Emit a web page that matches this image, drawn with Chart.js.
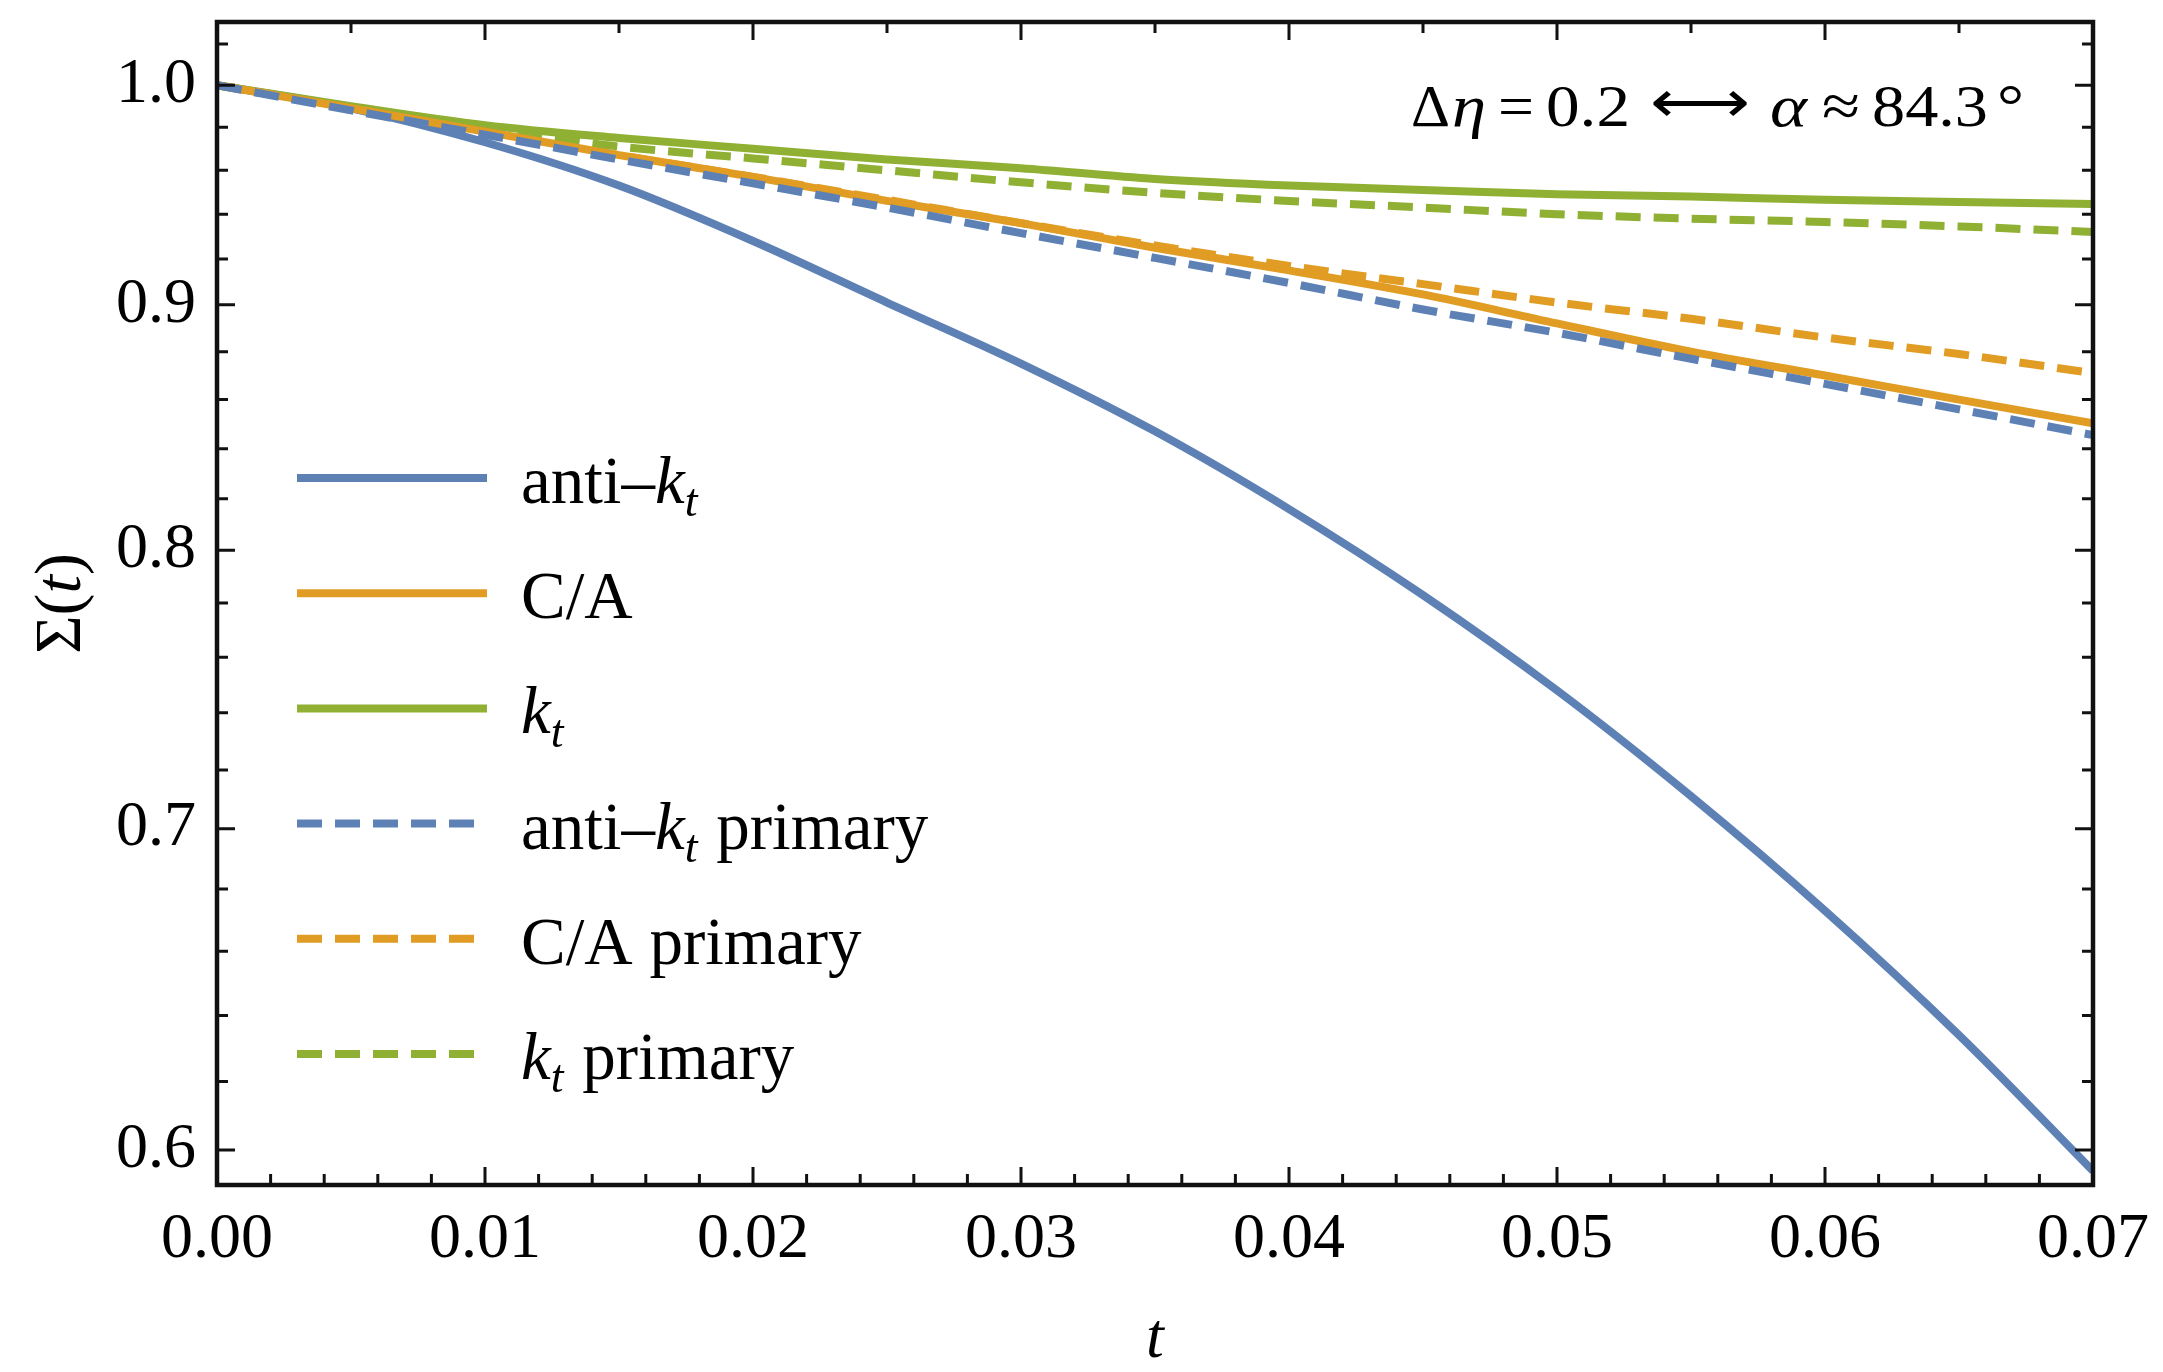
<!DOCTYPE html>
<html>
<head>
<meta charset="utf-8">
<title>Sigma(t)</title>
<script src="https://cdn.jsdelivr.net/npm/chart.js@4.4.1/dist/chart.umd.min.js"></script>
<style>
  html, body { margin: 0; padding: 0; background: #ffffff; }
  #wrap { width: 2163px; height: 1372px; position: relative; }
  canvas { display: block; }
</style>
</head>
<body>
<div id="wrap"><canvas id="c" width="2163" height="1372"></canvas></div>
<script>
// ---------------- data ----------------
const tValues = [0, 0.005, 0.01, 0.015, 0.02, 0.025, 0.03, 0.035, 0.04, 0.045, 0.05, 0.055, 0.06, 0.065, 0.07];
const antiKt        = [1.000, 0.989, 0.973, 0.953, 0.928, 0.901, 0.875, 0.847, 0.816, 0.783, 0.748, 0.711, 0.673, 0.634, 0.594];
const cambridgeAachen = [1.000, 0.989, 0.978, 0.967, 0.957, 0.946, 0.936, 0.925, 0.915, 0.9045, 0.892, 0.880, 0.870, 0.860, 0.8503];
const kt            = [1.000, 0.990, 0.981, 0.975, 0.970, 0.965, 0.961, 0.956, 0.953, 0.951, 0.949, 0.948, 0.9465, 0.9455, 0.9446];
const antiKtPrimary = [1.000, 0.988, 0.9765, 0.965, 0.954, 0.943, 0.9315, 0.9205, 0.9095, 0.898, 0.888, 0.877, 0.8665, 0.856, 0.8455];
const caPrimary     = [1.000, 0.989, 0.978, 0.967, 0.957, 0.9465, 0.936, 0.926, 0.917, 0.909, 0.901, 0.894, 0.886, 0.879, 0.871];
const ktPrimary     = [1.000, 0.989, 0.979, 0.971, 0.9655, 0.960, 0.9545, 0.9497, 0.946, 0.943, 0.940, 0.938, 0.9365, 0.9345, 0.932];

const seriesLabels = ['anti\u2013kt', 'C/A', 'kt', 'anti\u2013kt primary', 'C/A primary', 'kt primary'];
const xTickValues = [0, 0.01, 0.02, 0.03, 0.04, 0.05, 0.06, 0.07];
const yTickValues = [0.6, 0.7, 0.8, 0.9, 1.0];
const xAxisTitle = 't';
const annotationParts = ['\u0394', '\u03B7', '=', '0.2', '\u27F7', '\u03B1', '\u2248', '84.3', '\u00B0'];

// ---------------- styling ----------------
const FONT = '"Liberation Serif", "Times New Roman", Times, serif';
const BLUE = '#5E81B5', ORANGE = '#E19C24', GREEN = '#8FB032';
const LW = 8;
const DASH = [25, 13];

// rich-text segments for legend entries (n = normal, i = italic, s = italic subscript)
const legendRich = [
  [['anti\u2013', 'n'], ['k', 'i'], ['t', 's']],
  [['C/A', 'n']],
  [['k', 'i'], ['t', 's']],
  [['anti\u2013', 'n'], ['k', 'i'], ['t', 's'], [' primary', 'n']],
  [['C/A primary', 'n']],
  [['k', 'i'], ['t', 's'], [' primary', 'n']]
];

function pts(arr) { return tValues.map((t, i) => ({ x: t, y: arr[i] })); }

const seriesData = [antiKt, cambridgeAachen, kt, antiKtPrimary, caPrimary, ktPrimary];
const seriesColors = [BLUE, ORANGE, GREEN, BLUE, ORANGE, GREEN];
const seriesDashed = [false, false, false, true, true, true];

const order = [3, 4, 5, 1, 2, 0];
const datasets = seriesData.map((arr, i) => ({
  label: seriesLabels[i],
  data: pts(arr),
  borderColor: seriesColors[i],
  backgroundColor: seriesColors[i],
  borderWidth: LW,
  borderDash: seriesDashed[i] ? DASH : [],
  borderCapStyle: 'butt',
  pointRadius: 0,
  fill: false,
  cubicInterpolationMode: 'monotone',
  order: order.indexOf(i)
}));

function segFont(st, size) {
  if (st === 'i') return 'italic ' + size + 'px ' + FONT;
  if (st === 's') return 'italic ' + Math.round(size * 0.68) + 'px ' + FONT;
  if (st === 'a') return '200 ' + size + 'px "DejaVu Sans", sans-serif';
  return size + 'px ' + FONT;
}
function drawRich(ctx, segs, x, y, size, align) {
  const widths = segs.map(s => { ctx.font = segFont(s[1], size); return ctx.measureText(s[0]).width; });
  const total = widths.reduce((a, b) => a + b, 0);
  let cx = align === 'right' ? x - total : (align === 'center' ? x - total / 2 : x);
  segs.forEach((s, i) => {
    ctx.font = segFont(s[1], size);
    ctx.fillText(s[0], cx, y + (s[1] === 's' ? size * 0.2 : 0));
    cx += widths[i] + (s[1] === 's' ? 2 : 0);
  });
  return total;
}

const decorPlugin = {
  id: 'decor',
  afterDatasetsDraw(chart) {
    const ctx = chart.ctx;
    const { left, right, top, bottom } = chart.chartArea;
    const xs = chart.scales.x, ys = chart.scales.y;
    ctx.save();
    ctx.strokeStyle = '#111';
    ctx.lineCap = 'butt';
    const MAJ = 18, MIN = 11;
    ctx.lineWidth = 3;
    ctx.beginPath();
    for (let k = 0; k <= 35; k++) {
      const px = xs.getPixelForValue(k * 0.002);
      const len = (k % 5 === 0) ? MAJ : MIN;
      ctx.moveTo(px, bottom); ctx.lineTo(px, bottom - len);
    }
    for (let k = 0; k <= 14; k++) {
      const px = xs.getPixelForValue(k * 0.005);
      const len = (k % 2 === 0) ? MAJ : MIN;
      ctx.moveTo(px, top); ctx.lineTo(px, top + len);
    }
    for (let k = 30; k <= 51; k++) {
      const v = k * 0.02;
      if (v < ys.min || v > ys.max) continue;
      const py = ys.getPixelForValue(v);
      const len = (k % 5 === 0) ? MAJ : MIN;
      ctx.moveTo(left, py); ctx.lineTo(left + len, py);
      ctx.moveTo(right, py); ctx.lineTo(right - len, py);
    }
    ctx.stroke();
    ctx.lineWidth = 4.5;
    ctx.strokeRect(left, top, right - left, bottom - top);

    // legend
    ctx.fillStyle = '#000';
    ctx.textBaseline = 'alphabetic';
    const lx0 = left + 80, lx1 = left + 270, tx = left + 304;
    const row0 = 478, rowStep = 115.2;
    chart.data.datasets.forEach((ds, i) => {
      const yy = row0 + i * rowStep;
      ctx.save();
      ctx.strokeStyle = ds.borderColor;
      ctx.lineWidth = ds.borderWidth;
      ctx.setLineDash(ds.borderDash || []);
      ctx.beginPath();
      ctx.moveTo(lx0, yy); ctx.lineTo(lx1, yy);
      ctx.stroke();
      ctx.restore();
      ctx.fillStyle = '#000';
      drawRich(ctx, legendRich[i], tx, yy + 25, 67, 'left');
    });

    // annotation
    const spans = [[1411, 1450], [1452, 1486], [1498, 1534], [1546, 1630], [1650, 1750], [1770, 1807], [1822, 1860], [1872, 1988], [1997, 2024]];
    const styles = ['n', 'i', 'n', 'n', 'a', 'i', 'n', 'n', 'n'];
    const base = 126;
    annotationParts.forEach((txt, i) => {
      ctx.font = segFont(styles[i], 60);
      const w = ctx.measureText(txt).width;
      const target = spans[i][1] - spans[i][0];
      const sx = Math.max(0.6, Math.min(1.8, target / w));
      ctx.save();
      ctx.translate(spans[i][0], base);
      ctx.scale(sx, 1);
      ctx.fillText(txt, 0, styles[i] === 'a' ? -4 : 0);
      ctx.restore();
    });

    // y axis title  Σ(t)
    ctx.save();
    ctx.translate(80, (top + bottom) / 2);
    ctx.rotate(-Math.PI / 2);
    drawRich(ctx, [['\u03A3(', 'n'], ['t', 'i'], [')', 'n']], 0, 0, 66, 'center');
    ctx.restore();
    ctx.restore();
  }
};

const ctx = document.getElementById('c').getContext('2d');
new Chart(ctx, {
  type: 'line',
  data: { datasets },
  options: {
    responsive: false,
    animation: false,
    devicePixelRatio: 1,
    layout: { padding: { top: 22, right: 70, bottom: 0, left: 0 } },
    plugins: { legend: { display: false }, tooltip: { enabled: false } },
    scales: {
      x: {
        type: 'linear',
        min: 0, max: 0.07,
        grid: { display: false, drawTicks: false },
        border: { display: false },
        afterBuildTicks: s => { s.ticks = xTickValues.map(v => ({ value: v })); },
        afterFit: s => { s.height = 187; s.paddingLeft = 0; s.paddingRight = 0; },
        ticks: {
          autoSkip: false, maxRotation: 0, minRotation: 0,
          padding: 17, color: '#000',
          font: { family: FONT, size: 64 },
          callback: v => Number(v).toFixed(2)
        },
        title: {
          display: true, text: xAxisTitle, color: '#000',
          font: { family: FONT, size: 64, style: 'italic', lineHeight: 1 },
          padding: { top: 0, bottom: 0 }
        }
      },
      y: {
        type: 'logarithmic',
        min: 0.5902, max: 1.0308,
        grid: { display: false, drawTicks: false },
        border: { display: false },
        afterBuildTicks: s => { s.ticks = yTickValues.map(v => ({ value: v })); },
        afterFit: s => { s.width = 217; s.paddingTop = 0; s.paddingBottom = 0; },
        ticks: {
          autoSkip: false, padding: 21, color: '#000',
          font: { family: FONT, size: 64 },
          callback: v => Number(v).toFixed(1)
        }
      }
    }
  },
  plugins: [decorPlugin]
});
</script>
</body>
</html>
